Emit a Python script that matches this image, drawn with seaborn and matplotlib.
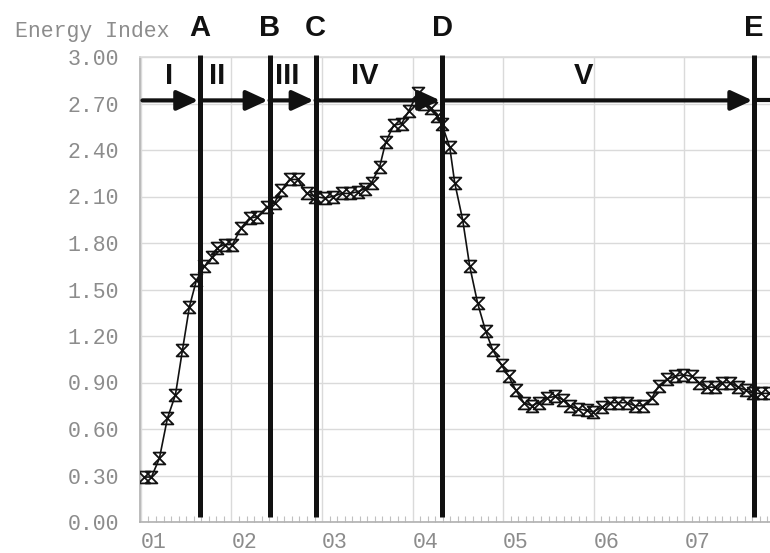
import numpy as np
import pandas as pd
import matplotlib
matplotlib.use("Agg")
import matplotlib.pyplot as plt
from matplotlib.path import Path
from matplotlib.ticker import MultipleLocator
import seaborn as sns

# --- dados ---
x_vals = [1.039, 1.116, 1.204, 1.293, 1.381, 1.459, 1.536, 1.613, 1.702, 1.790,
          1.845, 1.923, 2.011, 2.110, 2.199, 2.287, 2.387, 2.475, 2.552, 2.641,
          2.729, 2.829, 2.917, 3.028, 3.116, 3.215, 3.304, 3.392, 3.470, 3.547,
          3.635, 3.702, 3.790, 3.878, 3.956, 4.055, 4.122, 4.199, 4.265, 4.320,
          4.409, 4.464, 4.552, 4.630, 4.718, 4.807, 4.884, 4.983, 5.061, 5.138,
          5.227, 5.315, 5.392, 5.481, 5.569, 5.657, 5.735, 5.823, 5.923, 5.989,
          6.088, 6.177, 6.265, 6.365, 6.453, 6.541, 6.641, 6.718, 6.807, 6.895,
          6.983, 7.083, 7.160, 7.249, 7.337, 7.414, 7.503, 7.591, 7.680, 7.757,
          7.845, 7.934]
energy = [0.29, 0.29, 0.41, 0.67, 0.82, 1.11, 1.39, 1.56, 1.65, 1.71,
          1.77, 1.79, 1.79, 1.90, 1.96, 1.97, 2.03, 2.06, 2.14, 2.21,
          2.21, 2.12, 2.10, 2.09, 2.10, 2.12, 2.12, 2.13, 2.15, 2.19,
          2.29, 2.45, 2.56, 2.57, 2.65, 2.77, 2.70, 2.67, 2.62, 2.57,
          2.42, 2.19, 1.95, 1.65, 1.41, 1.23, 1.11, 1.01, 0.94, 0.85,
          0.77, 0.75, 0.77, 0.80, 0.81, 0.79, 0.75, 0.73, 0.72, 0.71,
          0.74, 0.77, 0.77, 0.77, 0.75, 0.75, 0.80, 0.88, 0.92, 0.94,
          0.95, 0.94, 0.90, 0.87, 0.87, 0.90, 0.90, 0.87, 0.85, 0.83,
          0.83, 0.83]

x_ticks = [1, 2, 3, 4, 5, 6, 7]
x_tick_labels = ['01', '02', '03', '04', '05', '06', '07']
y_ticks = [0.0, 0.3, 0.6, 0.9, 1.2, 1.5, 1.8, 2.1, 2.4, 2.7, 3.0]

# marcos (linhas verticais) e fases
marcos = ['A', 'B', 'C', 'D', 'E']
marcos_x = [1.654, 2.42, 2.928, 4.324, 7.771]
fases = ['I', 'II', 'III', 'IV', 'V']
fases_x = [1.315, 1.845, 2.62, 3.47, 5.89]

df = pd.DataFrame({'t': x_vals, 'energy': energy})

sns.set_theme(style="white")
cinza = '#8c8c8c'
grade = '#dadada'

fig = plt.figure(figsize=(7.7, 5.53), dpi=100)
ax = fig.add_axes([140 / 770, 31 / 553, 1 - 140 / 770, (522 - 57) / 553])

# marcador em forma de ampulheta
ampulheta = Path([(-1, 1), (1, 1), (-1, -1), (1, -1), (-1, 1)],
                 [Path.MOVETO, Path.LINETO, Path.LINETO, Path.LINETO, Path.CLOSEPOLY])

sns.lineplot(data=df, x='t', y='energy', ax=ax, color='#111111', lw=1.2,
             marker=ampulheta, markersize=8.5, markerfacecolor='none',
             markeredgecolor='#111111', markeredgewidth=1.3, zorder=3)

ax.set_xlim(0.99, 7.945)
ax.set_ylim(0, 3.0)
ax.set_xticks(x_ticks)
ax.set_xticklabels(x_tick_labels)
ax.set_yticks(y_ticks)
ax.set_yticklabels([f'{v:.2f}' for v in y_ticks])
ax.xaxis.set_minor_locator(MultipleLocator(1 / 12))
ax.grid(True, which='major', color=grade, lw=1)
ax.set_axisbelow(True)
ax.set_xlabel('')
ax.set_ylabel('')

ax.spines['right'].set_visible(False)
ax.spines['top'].set_color(grade)
ax.spines['left'].set_color('#b0b0b0')
ax.spines['bottom'].set_color('#b0b0b0')
for s in ['left', 'bottom', 'top']:
    ax.spines[s].set_linewidth(1.2)

ax.tick_params(axis='both', which='major', length=0, colors=cinza, labelsize=15.5)
ax.tick_params(axis='y', pad=15)
ax.tick_params(axis='x', pad=7)
ax.tick_params(axis='x', which='minor', direction='in', length=4, width=0.8,
               color='#c0c0c0', bottom=True)
for lbl in ax.get_xticklabels() + ax.get_yticklabels():
    lbl.set_family('Liberation Mono')
for lbl in ax.get_xticklabels():
    lbl.set_ha('left')

# linhas verticais grossas
for xm, nome in zip(marcos_x, marcos):
    ax.plot([xm, xm], [0.03, 3.015], color='#111111', lw=3.6, clip_on=False, zorder=4,
            solid_capstyle='butt')
    ax.text(xm, 3.19, nome, ha='center', va='center', fontsize=21, fontweight='bold',
            family=['Liberation Sans', 'DejaVu Sans'], color='#111111', clip_on=False)

# setas horizontais entre os marcos
y_seta = 2.72
inicio = [1.017] + marcos_x[:-1]
for x0, x1 in zip(inicio, marcos_x):
    ax.annotate('', xy=(x1 - 0.02, y_seta), xytext=(x0, y_seta),
                arrowprops=dict(arrowstyle='-|>,head_length=0.65,head_width=0.3',
                                lw=3, color='#111111', mutation_scale=20,
                                shrinkA=0, shrinkB=0), zorder=5)
ax.plot([marcos_x[-1], 7.945], [y_seta, y_seta], color='#111111', lw=3, zorder=5)

for xf, nome in zip(fases_x, fases):
    ax.text(xf, 2.877, nome, ha='center', va='center', fontsize=21, fontweight='bold',
            family=['Liberation Sans Narrow', 'Liberation Sans', 'DejaVu Sans'],
            color='#111111')

fig.text(15 / 770, 1 - 32 / 553, 'Energy Index', ha='left', va='center',
         fontsize=15.5, family='Liberation Mono', color=cinza)

fig.savefig('out.png', dpi=100)
